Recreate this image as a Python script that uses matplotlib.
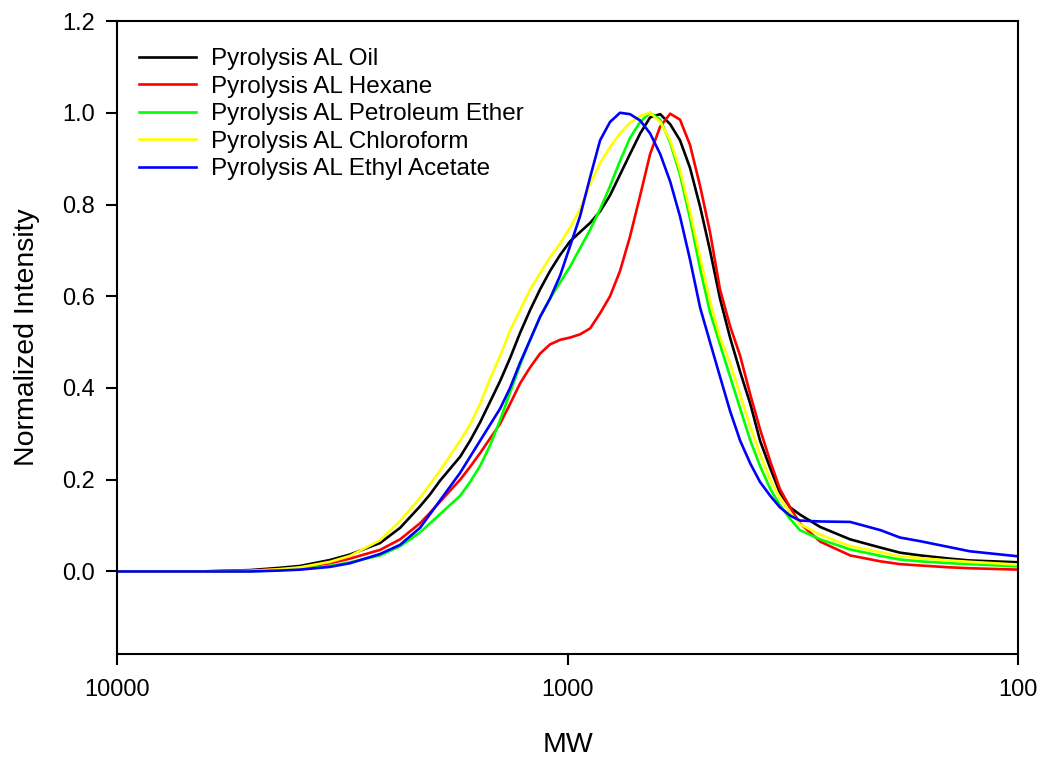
import numpy as np
import matplotlib
matplotlib.use("Agg")
import matplotlib.pyplot as plt

plt.rcParams['font.family'] = ['Liberation Sans', 'DejaVu Sans']

# MW positions the curves were read at
mw = [10000, 6543, 5068, 4347, 3925, 3367, 3040, 2608, 2354, 2126, 2020, 1919, 1732, 1646,
      1564, 1486, 1412, 1342, 1275, 1211, 1151, 1094, 1039, 987, 938, 891, 847, 805, 765,
      727, 690, 656, 623, 592, 563, 535, 508, 483, 459, 436, 414, 393, 374, 355, 338, 321,
      305, 275, 236, 202, 183, 165, 142, 128, 100]

# normalized intensity
oil = [0.0, 0.0, 0.003, 0.008, 0.012, 0.025, 0.037, 0.062, 0.095, 0.142, 0.168, 0.198, 0.25, 0.285,
       0.325, 0.37, 0.415, 0.465, 0.52, 0.57, 0.615, 0.655, 0.69, 0.72, 0.74, 0.76, 0.785, 0.82, 0.865,
       0.91, 0.955, 0.99, 0.997, 0.975, 0.94, 0.88, 0.795, 0.70, 0.595, 0.51, 0.435, 0.365, 0.285, 0.225,
       0.172, 0.14, 0.124, 0.097, 0.07, 0.052, 0.041, 0.035, 0.028, 0.024, 0.02]

hexane = [0.0, 0.0, 0.002, 0.005, 0.008, 0.018, 0.028, 0.047, 0.07, 0.105, 0.128, 0.152, 0.2, 0.228,
          0.258, 0.29, 0.322, 0.365, 0.41, 0.445, 0.475, 0.495, 0.505, 0.51, 0.517, 0.53, 0.563, 0.6, 0.655,
          0.73, 0.82, 0.91, 0.97, 0.998, 0.985, 0.93, 0.84, 0.74, 0.615, 0.535, 0.47, 0.385, 0.31, 0.24,
          0.18, 0.14, 0.105, 0.065, 0.035, 0.022, 0.016, 0.013, 0.009, 0.007, 0.004]

pet_ether = [0.0, 0.0, 0.0, 0.003, 0.005, 0.012, 0.02, 0.035, 0.055, 0.085, 0.105, 0.125, 0.165, 0.195,
             0.23, 0.275, 0.33, 0.39, 0.45, 0.505, 0.555, 0.595, 0.63, 0.665, 0.705, 0.745, 0.79, 0.84, 0.895,
             0.945, 0.98, 1.0, 0.985, 0.935, 0.865, 0.77, 0.66, 0.565, 0.495, 0.425, 0.355, 0.285, 0.23, 0.18,
             0.145, 0.115, 0.09, 0.07, 0.048, 0.034, 0.026, 0.022, 0.018, 0.016, 0.011]

chloroform = [0.0, 0.0, 0.001, 0.005, 0.009, 0.021, 0.034, 0.068, 0.11, 0.16, 0.19, 0.22, 0.285, 0.32,
              0.365, 0.42, 0.47, 0.525, 0.57, 0.615, 0.65, 0.685, 0.715, 0.75, 0.79, 0.845, 0.89, 0.925, 0.955,
              0.978, 0.993, 1.0, 0.98, 0.94, 0.875, 0.785, 0.685, 0.59, 0.51, 0.455, 0.385, 0.315, 0.255, 0.2,
              0.16, 0.128, 0.103, 0.08, 0.055, 0.042, 0.033, 0.029, 0.024, 0.021, 0.015]

ethyl_acetate = [0.0, 0.0, 0.0, 0.002, 0.004, 0.01, 0.018, 0.038, 0.058, 0.095, 0.125, 0.155, 0.215, 0.25,
                 0.285, 0.32, 0.355, 0.40, 0.455, 0.505, 0.555, 0.595, 0.645, 0.71, 0.775, 0.86, 0.94, 0.98, 1.0,
                 0.997, 0.983, 0.955, 0.91, 0.85, 0.774, 0.68, 0.575, 0.5, 0.425, 0.35, 0.285, 0.235, 0.195, 0.165,
                 0.14, 0.122, 0.111, 0.109, 0.108, 0.09, 0.074, 0.066, 0.053, 0.044, 0.033]

labels = ["Pyrolysis AL Oil", "Pyrolysis AL Hexane", "Pyrolysis AL Petroleum Ether",
          "Pyrolysis AL Chloroform", "Pyrolysis AL Ethyl Acetate"]
colors = ["black", "#ff0000", "#00ff00", "#ffff00", "#0000ff"]

fig = plt.figure(figsize=(10.43, 7.59), dpi=100)
ax = fig.add_axes([0.1122, 0.1383, 0.864, 0.834])

for y, lab, c in zip([oil, hexane, pet_ether, chloroform, ethyl_acetate], labels, colors):
    ax.plot(mw, y, color=c, lw=1.9, label=lab, solid_joinstyle='round')

ax.set_xscale('log')
ax.set_xlim(10000, 100)
ax.set_ylim(-0.18, 1.2)
ax.set_xticks([10000, 1000, 100])
ax.set_xticklabels(["10000", "1000", "100"])
ax.xaxis.set_minor_locator(matplotlib.ticker.NullLocator())
ax.set_yticks([0.0, 0.2, 0.4, 0.6, 0.8, 1.0, 1.2])
ax.set_yticklabels(["0.0", "0.2", "0.4", "0.6", "0.8", "1.0", "1.2"])
ax.tick_params(direction='out', length=8, width=1.5, labelsize=17, pad=8)
ax.tick_params(axis='x', pad=10)
for s in ax.spines.values():
    s.set_linewidth(1.5)

ax.set_xlabel("MW", fontsize=20.5, labelpad=22)
ax.set_ylabel("Normalized Intensity", fontsize=20.5, labelpad=16)

ax.legend(loc='upper left', bbox_to_anchor=(0.0244, 0.957), frameon=False, fontsize=17.5,
          borderaxespad=0, borderpad=0, handlelength=2.35, handletextpad=0.6, labelspacing=0.226)

fig.savefig("out.png", dpi=100)
